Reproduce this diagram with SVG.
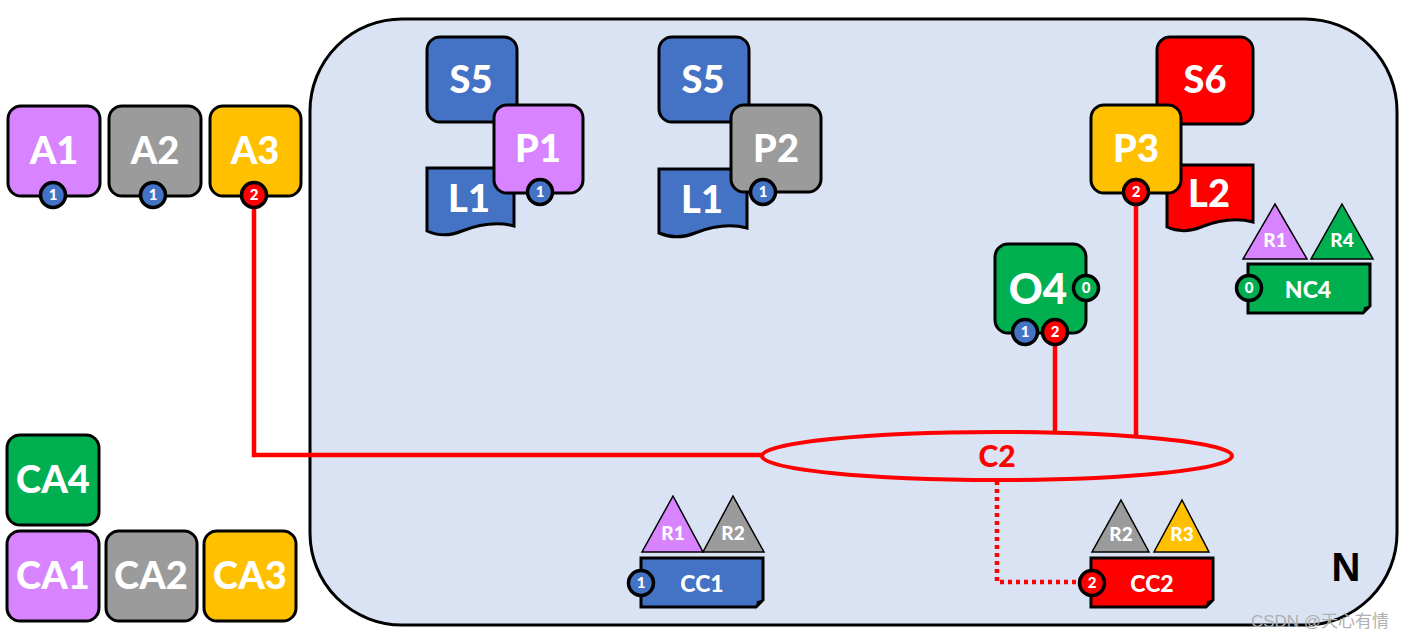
<svg xmlns="http://www.w3.org/2000/svg" width="1405" height="639" viewBox="0 0 1405 639">
<style>
.box{stroke:#000;stroke-width:3}
.t{font-family:Lato,"Open Sans","Liberation Sans",sans-serif;font-weight:900;fill:#fff;text-anchor:middle}
.big{font-size:38px}
.mid{font-size:23px}
.sm{font-size:19px}
.bt{font-size:15px}
.pu{fill:#D883FF}.gr{fill:#9B9B9B}.ye{fill:#FFC000}.bl{fill:#4472C4}.gn{fill:#00B050}.rd{fill:#FF0000}
.badge{stroke:#000;stroke-width:3.5}
.tri{stroke:#000;stroke-width:1.5}
.link{stroke:#FF0000;stroke-width:4.5;fill:none}
</style>
<rect x="310" y="19" width="1087" height="606" rx="92" fill="#DAE3F3" stroke="#000" stroke-width="3"/>

<g id="connectors">
<path class="link" d="M254,205 V455 H763"/>
<path class="link" d="M1055,345 V433"/>
<path class="link" d="M1136,205 V436"/>
<path class="link" stroke-dasharray="4,4" d="M997,481 V582 H1079"/>
</g>

<g id="C2">
<ellipse cx="997" cy="456" rx="235" ry="24" fill="none" stroke="#FF0000" stroke-width="4"/>
<text x="997" y="467" style="font-family:Lato,'Open Sans','Liberation Sans',sans-serif;font-weight:900;font-size:30px;fill:#FF0000;text-anchor:middle">C2</text>
</g>

<g id="A1"><rect class="box pu" x="8" y="106" width="92" height="90" rx="13"/><text class="t big" x="54" y="164">A1</text><circle class="badge bl" cx="53" cy="195" r="12.5"/><text class="t bt" x="53" y="200">1</text></g>
<g id="A2"><rect class="box gr" x="109" y="106" width="92" height="90" rx="13"/><text class="t big" x="155" y="164">A2</text><circle class="badge bl" cx="153" cy="195" r="12.5"/><text class="t bt" x="153" y="200">1</text></g>
<g id="A3"><rect class="box ye" x="210" y="106" width="91" height="90" rx="13"/><text class="t big" x="255" y="164">A3</text><circle class="badge rd" cx="254" cy="195" r="12.5"/><text class="t bt" x="254" y="200">2</text></g>

<g id="CA4"><rect class="box gn" x="7" y="435" width="92" height="90" rx="13"/><text class="t big" x="53" y="493">CA4</text></g>
<g id="CA1"><rect class="box pu" x="7" y="531" width="92" height="90" rx="13"/><text class="t big" x="53" y="589">CA1</text></g>
<g id="CA2"><rect class="box gr" x="106" y="531" width="91" height="90" rx="13"/><text class="t big" x="151" y="589">CA2</text></g>
<g id="CA3"><rect class="box ye" x="204" y="531" width="92" height="90" rx="13"/><text class="t big" x="250" y="589">CA3</text></g>

<g id="S5a"><rect class="box bl" x="427" y="37" width="90" height="85" rx="13"/><text class="t big" x="471" y="93">S5</text></g>
<g id="L1a"><path class="box bl" d="M427,168 H514 V226 C495,221 475,226 462,231 C450,236 438,236 427,231 Z"/><text class="t big" x="469" y="212">L1</text></g>
<g id="P1"><rect class="box pu" x="494" y="105" width="89" height="88" rx="13"/><text class="t big" x="538" y="162">P1</text><circle class="badge bl" cx="540" cy="192" r="12.5"/><text class="t bt" x="540" y="197">1</text></g>

<g id="S5b"><rect class="box bl" x="659" y="37" width="90" height="85" rx="13"/><text class="t big" x="703" y="93">S5</text></g>
<g id="L1b"><path class="box bl" d="M659,169 H747 V228 C728,223 708,228 695,233 C683,238 671,238 659,233 Z"/><text class="t big" x="702" y="213">L1</text></g>
<g id="P2"><rect class="box gr" x="731" y="105" width="90" height="87" rx="13"/><text class="t big" x="776" y="162">P2</text><circle class="badge bl" cx="763" cy="192" r="12.5"/><text class="t bt" x="763" y="197">1</text></g>

<g id="S6"><rect class="box rd" x="1157" y="37" width="96" height="87" rx="13"/><text class="t big" x="1205" y="93">S6</text></g>
<g id="L2"><path class="box rd" d="M1167,165 H1253 V222 C1234,217 1214,222 1201,227 C1189,232 1178,232 1167,227 Z"/><text class="t big" x="1209" y="207">L2</text></g>
<g id="P3"><rect class="box ye" x="1091" y="105" width="90" height="88" rx="13"/><text class="t big" x="1136" y="162">P3</text><circle class="badge rd" cx="1136" cy="192" r="12.5"/><text class="t bt" x="1136" y="197">2</text></g>

<g id="O4"><rect class="box gn" x="995" y="244" width="91" height="89" rx="13"/><text class="t" style="font-size:42px" x="1038" y="304">O4</text><circle class="badge gn" cx="1086" cy="288" r="12.5"/><text class="t bt" x="1086" y="293">0</text><circle class="badge bl" cx="1025" cy="332" r="12.5"/><text class="t bt" x="1025" y="337">1</text><circle class="badge rd" cx="1055" cy="332" r="12.5"/><text class="t bt" x="1055" y="337">2</text></g>

<g id="NC4">
<polygon class="pu tri" points="1275,204 1307,259 1243,259"/><text class="t sm" x="1275" y="247">R1</text>
<polygon class="gn tri" points="1342,204 1373,259 1311,259"/><text class="t sm" x="1342" y="247">R4</text>
<path class="box gn" d="M1248,264 H1370 V306 L1363,313 H1248 Z"/><path d="M1370,306 L1364,307 L1363,313 Z" fill="#000"/>
<text class="t mid" x="1308" y="298">NC4</text>
<circle class="badge gn" cx="1249" cy="288" r="12.5"/><text class="t bt" x="1249" y="293">0</text>
</g>

<g id="CC1">
<polygon class="pu tri" points="673,496 703,552 642,552"/><text class="t sm" x="673" y="540">R1</text>
<polygon class="gr tri" points="733,496 764,552 703,552"/><text class="t sm" x="733" y="540">R2</text>
<path class="box bl" d="M641,558 H763 V600 L756,607 H641 Z"/><path d="M763,600 L757,601 L756,607 Z" fill="#000"/>
<text class="t mid" x="702" y="592">CC1</text>
<circle class="badge bl" cx="641" cy="583" r="12.5"/><text class="t bt" x="641" y="588">1</text>
</g>

<g id="CC2">
<polygon class="gr tri" points="1121,500 1149,552 1092,552"/><text class="t sm" x="1121" y="541">R2</text>
<polygon class="ye tri" points="1182,500 1209,552 1154,552"/><text class="t sm" x="1182" y="541">R3</text>
<path class="box rd" d="M1091,558 H1213 V600 L1206,607 H1091 Z"/><path d="M1213,600 L1207,601 L1206,607 Z" fill="#000"/>
<text class="t mid" x="1152" y="592">CC2</text>
<circle class="badge rd" cx="1092" cy="583" r="12.5"/><text class="t bt" x="1092" y="588">2</text>
</g>

<text x="1346" y="581" style="font-family:'Liberation Sans',Arial,sans-serif;font-weight:bold;font-size:40px;fill:#000;text-anchor:middle">N</text>
<text x="1320" y="627" style="font-family:'Liberation Sans','Noto Sans CJK SC',sans-serif;font-size:17px;fill:#B0B0B0;text-anchor:middle">CSDN @天心有情</text>
</svg>
